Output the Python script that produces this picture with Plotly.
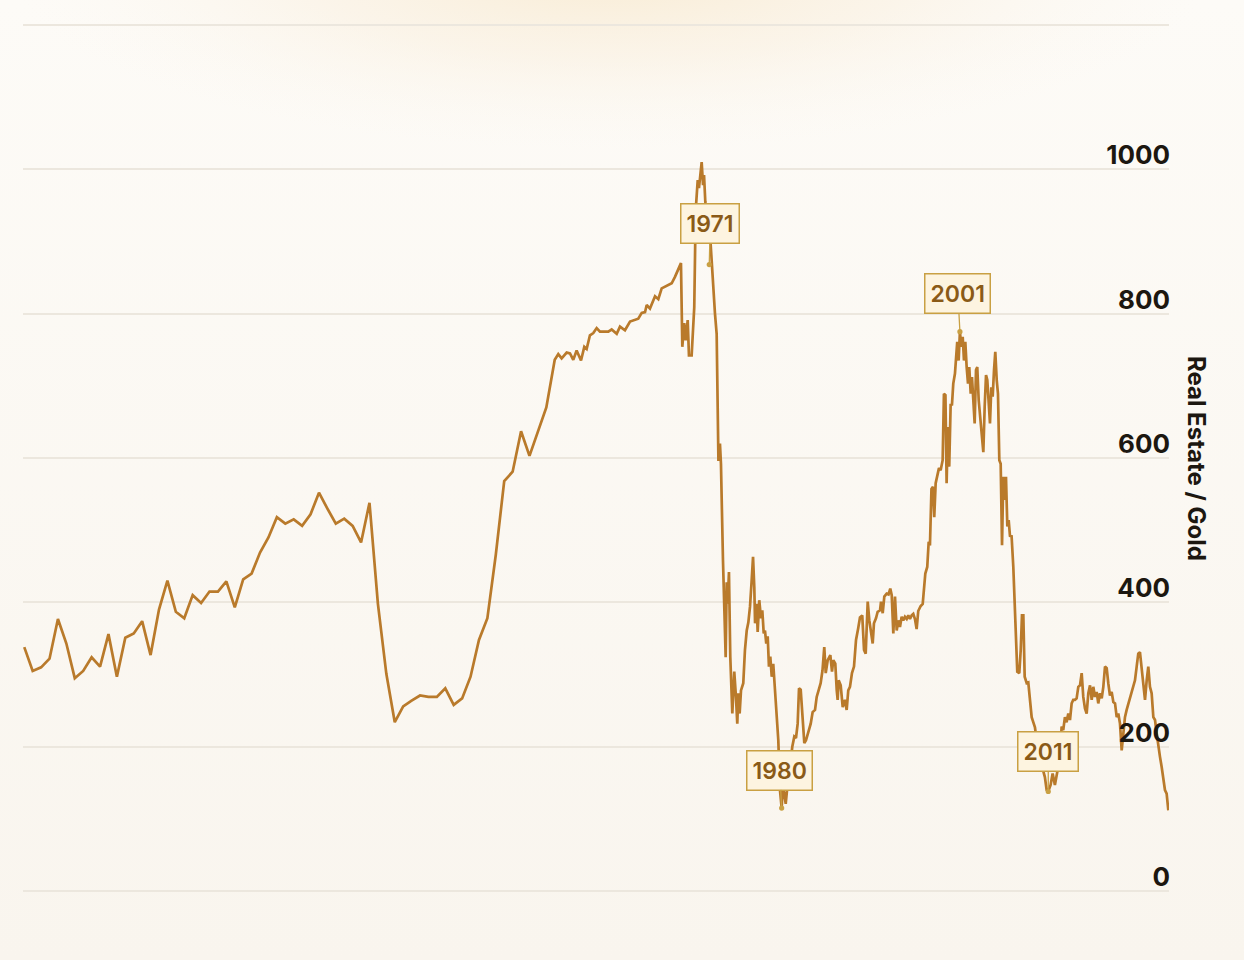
import base64
import plotly.graph_objects as go

# annual readings, 1890-1953
annual_year = list(range(1890, 1954))
annual_ratio = [
    338, 305, 310, 322, 377, 343, 295, 305, 324, 311,
    356, 297, 351, 357, 374, 327, 390, 430, 387, 378,
    410, 399, 415, 415, 429, 393, 432, 440, 469, 490,
    518, 509, 515, 506, 522, 552, 530, 509, 516, 506,
    483, 538, 398, 301, 234, 256, 264, 271, 269, 269,
    281, 258, 267, 297, 348, 378, 466, 568, 581, 637,
    603, 638, 670, 736,
]

# denser readings after 1953 (decimal years)
late_year = [
    1953.42, 1953.82, 1954.42, 1954.81, 1955.20, 1955.60, 1956.12, 1956.51, 1956.79, 1957.18,
    1957.58, 1957.98, 1958.37, 1958.76, 1959.36, 1959.76, 1960.36, 1960.75, 1961.34, 1961.94,
    1962.53, 1962.92, 1963.33, 1963.72, 1963.92, 1964.31, 1964.91, 1965.30, 1965.70, 1966.29,
    1966.89, 1967.28, 1967.99, 1968.15, 1968.38, 1968.55, 1968.79, 1968.94, 1969.26, 1969.42,
    1969.57, 1969.74, 1969.98, 1970.13, 1970.25, 1970.45, 1970.61, 1970.73, 1970.88, 1971.15,
    1971.50, 1971.76, 1972.03, 1972.23, 1972.35, 1972.44, 1972.62, 1972.74, 1972.98, 1973.30,
    1973.42, 1973.54, 1973.69, 1973.85, 1974.09, 1974.32, 1974.52, 1974.68, 1974.80, 1974.96,
    1975.12, 1975.39, 1975.59, 1975.80, 1975.99, 1976.19, 1976.39, 1976.55, 1976.70, 1976.79,
    1976.98, 1977.10, 1977.29, 1977.49, 1977.65, 1977.82, 1977.97, 1978.12, 1978.29, 1978.44,
    1978.60, 1978.77, 1978.95, 1979.16, 1979.36, 1979.55, 1979.75, 1979.95, 1980.07, 1980.23,
    1980.43, 1980.66, 1980.94, 1981.21, 1981.45, 1981.65, 1981.85, 1982.01, 1982.21, 1982.33,
    1982.45, 1982.64, 1982.84, 1983.11, 1983.40, 1983.63, 1983.91, 1984.11, 1984.35, 1984.58,
    1984.80, 1985.01, 1985.18, 1985.42, 1985.73, 1985.93, 1986.08, 1986.32, 1986.49, 1986.60,
    1986.72, 1986.96, 1987.20, 1987.47, 1987.67, 1987.86, 1988.06, 1988.30, 1988.54, 1988.78,
    1989.05, 1989.25, 1989.52, 1989.73, 1989.93, 1990.17, 1990.36, 1990.56, 1990.76, 1990.91,
    1991.15, 1991.35, 1991.63, 1991.75, 1991.95, 1992.14, 1992.42, 1992.64, 1992.85, 1993.02,
    1993.21, 1993.41, 1993.61, 1993.80, 1994.00, 1994.20, 1994.39, 1994.59, 1994.80, 1994.99,
    1995.19, 1995.39, 1995.58, 1995.78, 1995.98, 1996.17, 1996.46, 1996.70, 1996.85, 1997.01,
    1997.24, 1997.41, 1997.56, 1997.74, 1997.92, 1998.07, 1998.24, 1998.43, 1998.63, 1998.83,
    1999.07, 1999.22, 1999.40, 1999.54, 1999.69, 1999.85, 2000.02, 2000.17, 2000.33, 2000.53,
    2000.65, 2000.80, 2000.97, 2001.12, 2001.28, 2001.45, 2001.60, 2001.76, 2001.92, 2002.08,
    2002.23, 2002.40, 2002.55, 2002.71, 2002.87, 2003.03, 2003.18, 2003.35, 2003.50, 2003.71,
    2003.90, 2004.06, 2004.22, 2004.37, 2004.54, 2004.69, 2004.85, 2005.01, 2005.17, 2005.32,
    2005.49, 2005.64, 2005.80, 2005.96, 2006.12, 2006.27, 2006.44, 2006.59, 2006.75, 2006.91,
    2007.07, 2007.25, 2007.46, 2007.62, 2007.78, 2007.93, 2008.17, 2008.34, 2008.49, 2008.65,
    2008.81, 2009.05, 2009.24, 2009.44, 2009.64, 2009.83, 2010.03, 2010.23, 2010.50, 2010.74,
    2010.98, 2011.21, 2011.42, 2011.61, 2011.89, 2012.13, 2012.40, 2012.68, 2012.94, 2013.20,
    2013.39, 2013.59, 2013.79, 2013.99, 2014.19, 2014.39, 2014.58, 2014.78, 2014.98, 2015.18,
    2015.38, 2015.58, 2015.77, 2015.97, 2016.17, 2016.37, 2016.57, 2016.77, 2016.96, 2017.16,
    2017.36, 2017.55, 2017.75, 2017.96, 2018.15, 2018.35, 2018.55, 2018.74, 2018.94, 2019.14,
    2019.34, 2019.54, 2019.74, 2019.93, 2020.13, 2020.33, 2020.52, 2020.72, 2020.92, 2021.12,
    2021.32, 2021.52, 2021.71, 2021.91, 2022.11, 2022.30, 2022.50, 2022.70, 2022.90, 2023.10,
    2023.30, 2023.49, 2023.69, 2023.89, 2024.09, 2024.29, 2024.49, 2024.68, 2024.88, 2025.08,
    2025.27, 2025.47, 2025.67, 2025.87,
]
late_ratio = [
    744, 738, 746, 745, 736, 749, 735, 754, 751, 770,
    773, 780, 775, 775, 775, 778, 772, 782, 777, 789,
    791, 793, 801, 802, 812, 807, 824, 820, 835, 838,
    842, 851, 870, 754, 787, 763, 791, 742, 742, 777,
    809, 943, 985, 974, 989, 1010, 978, 992, 955, 925,
    899, 846, 800, 772, 639, 596, 620, 592, 458, 324,
    428, 398, 442, 324, 246, 304, 269, 232, 274, 246,
    278, 288, 334, 361, 372, 394, 431, 463, 421, 371,
    398, 359, 403, 378, 389, 357, 361, 343, 353, 311,
    325, 297, 315, 278, 255, 209, 140, 115, 144, 137,
    121, 149, 172, 200, 214, 212, 232, 281, 279, 260,
    237, 205, 209, 221, 232, 248, 251, 269, 281, 288,
    306, 338, 302, 320, 327, 304, 320, 315, 278, 265,
    292, 285, 255, 265, 251, 278, 283, 302, 311, 348,
    365, 379, 382, 334, 329, 401, 375, 357, 343, 371,
    378, 387, 389, 401, 385, 408, 412, 411, 419, 410,
    357, 408, 361, 375, 366, 380, 375, 380, 377, 382,
    377, 382, 384, 377, 363, 388, 395, 398, 426, 440,
    449, 484, 479, 557, 560, 518, 565, 576, 586, 583,
    597, 689, 687, 565, 643, 588, 675, 673, 703, 717,
    735, 761, 735, 775, 754, 768, 735, 761, 726, 703,
    726, 689, 712, 680, 648, 722, 726, 680, 662, 634,
    608, 671, 715, 708, 675, 648, 698, 685, 722, 747,
    708, 689, 597, 592, 479, 574, 542, 574, 505, 514,
    491, 493, 449, 394, 343, 304, 302, 334, 382, 382,
    297, 288, 289, 269, 241, 234, 227, 209, 193, 179,
    168, 158, 140, 138, 147, 163, 147, 165, 173, 228,
    223, 241, 234, 246, 237, 260, 265, 265, 267, 283,
    285, 302, 269, 253, 246, 274, 285, 265, 283, 269,
    276, 260, 274, 267, 283, 311, 309, 288, 271, 276,
    262, 260, 241, 246, 232, 195, 218, 241, 251, 260,
    269, 278, 283, 292, 311, 329, 331, 311, 283, 265,
    292, 311, 283, 274, 241, 237, 218, 200, 186, 172,
    158, 140, 135, 112,
]

event_label = ["1971", "1980", "2001", "2011"]
event_year = [1971.35, 1979.95, 2001.12, 2011.61]
event_ratio = [868, 115, 775, 138]
event_ax = [1, -2, -2, 0]
event_ay = [-41, -38, -38, -40]

tick_vals = [0, 200, 400, 600, 800, 1000, 1200]
tick_text = ["0", "200", "400", "600", "800", "1000", ""]

LINE = "#b97a2b"
GOLD = "#c9a043"
INK = "#1c1710"

years = annual_year + late_year
ratio = annual_ratio + late_ratio

W, H = 1244, 960
ML, MR, MT, MB = 23, 75, 22, 66
PW, PH = W - ML - MR, H - MT - MB

# soft warm glow at the top, as an svg background
svg = f"""<svg xmlns='http://www.w3.org/2000/svg' width='{W}' height='{H}'>
<defs>
<linearGradient id='bg' x1='0' y1='0' x2='0' y2='1'>
<stop offset='0' stop-color='#fdfbf7'/><stop offset='1' stop-color='#f9f5ee'/>
</linearGradient>
<radialGradient id='glow' cx='610' cy='-30' r='600' gradientUnits='userSpaceOnUse'
 gradientTransform='translate(610,-30) scale(1,0.3) translate(-610,30)'>
<stop offset='0' stop-color='#f8ead0' stop-opacity='0.9'/>
<stop offset='0.5' stop-color='#f9eedc' stop-opacity='0.5'/>
<stop offset='1' stop-color='#fbf6ee' stop-opacity='0'/>
</radialGradient>
</defs>
<rect width='{W}' height='{H}' fill='url(#bg)'/>
<rect width='{W}' height='{H}' fill='url(#glow)'/>
</svg>"""
bg_uri = "data:image/svg+xml;base64," + base64.b64encode(svg.encode()).decode()

fig = go.Figure()
fig.add_trace(go.Scatter(
    x=years, y=ratio, mode="lines",
    line=dict(color=LINE, width=2.7),
    hoverinfo="skip", showlegend=False,
))

for lab, xx, yy, ax, ay in zip(event_label, event_year, event_ratio, event_ax, event_ay):
    fig.add_annotation(
        x=xx, y=yy, text=lab, showarrow=True,
        ax=ax, ay=ay, arrowhead=6, arrowsize=1, arrowwidth=1.3,
        arrowcolor=GOLD, standoff=0,
        bgcolor="#fdf4e0", bordercolor=GOLD, borderwidth=1.5, borderpad=5,
        font=dict(family="Inter", size=23, color="#8a5a17", weight=600),
    )

fig.add_annotation(
    x=(1197 - ML) / PW, y=0.5, xref="paper", yref="paper",
    xanchor="center", yanchor="middle",
    text="Real Estate / Gold", textangle=90, showarrow=False,
    font=dict(family="Inter", size=24, color=INK, weight=700),
)

fig.add_layout_image(
    source=bg_uri, xref="paper", yref="paper",
    x=-ML / PW, y=1 + MT / PH, sizex=W / PW, sizey=H / PH,
    xanchor="left", yanchor="top", sizing="stretch", layer="below",
)

fig.update_layout(
    width=W, height=H,
    margin=dict(l=ML, r=MR, t=MT, b=MB),
    paper_bgcolor="#fcf9f3", plot_bgcolor="rgba(0,0,0,0)",
    font=dict(family="Inter", color=INK),
)
fig.update_xaxes(range=[1889.85, 2025.95], visible=False)
fig.update_yaxes(
    side="right", range=[-4, 1204],
    tickvals=tick_vals, ticktext=tick_text,
    ticklabelposition="inside", ticklabelshift=-14, ticklabelstandoff=-4,
    tickfont=dict(family="Inter", size=26, color=INK, weight=700),
    showgrid=True, gridcolor="#ece7de", gridwidth=1.5,
    zeroline=False, showline=False, ticks="",
)

# drop the default page margin so the figure fills the window
fig.write_html(
    "out.html",
    config={"displayModeBar": False},
    post_script="document.body.style.margin='0';document.body.style.background='#fcf9f3';",
)
